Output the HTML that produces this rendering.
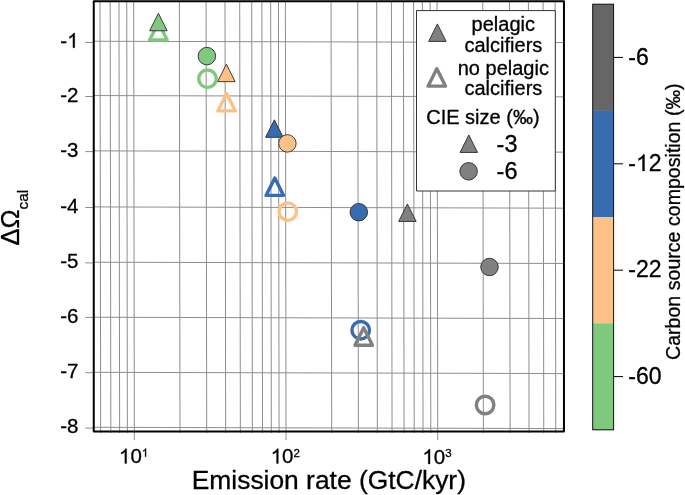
<!DOCTYPE html><html><head><meta charset="utf-8"><style>html,body{margin:0;padding:0;background:#fff;}svg{display:block;will-change:transform;}text{font-family:"Liberation Sans",sans-serif;fill:#000;stroke:#000;stroke-width:0.3px;}</style></head><body><svg width="685" height="495" viewBox="0 0 685 495"><rect x="0" y="0" width="685" height="495" fill="#fff"/><path d="M100.02 1.20L100.67 433.06M110.18 1.20L110.83 433.06M118.98 1.20L119.63 433.06M126.74 1.20L127.39 433.06M133.68 1.20L134.34 440.20M179.35 1.20L179.99 433.06M206.06 1.20L206.71 433.06M225.01 1.20L225.66 433.06M239.71 1.20L240.36 433.06M251.72 1.20L252.37 433.06M261.88 1.20L262.53 433.06M270.68 1.20L271.33 433.06M278.44 1.20L279.09 433.06M285.38 1.20L286.04 440.20M331.05 1.20L331.69 433.06M357.76 1.20L358.41 433.06M376.71 1.20L377.36 433.06M391.41 1.20L392.06 433.06M403.42 1.20L404.07 433.06M413.58 1.20L414.23 433.06M422.38 1.20L423.03 433.06M430.14 1.20L430.79 433.06M437.08 1.20L437.74 440.20M482.75 1.20L483.39 433.06M509.46 1.20L510.11 433.06M528.41 1.20L529.06 433.06M543.11 1.20L543.76 433.06M555.12 1.20L555.77 433.06" stroke="#8e8e8e" stroke-width="1.0" fill="none"/><path d="M93.75 41.26L563.95 42.53M93.75 95.56L563.95 96.83M93.75 150.86L563.95 152.13M93.75 206.91L563.95 208.18M93.75 262.21L563.95 263.48M93.75 317.26L563.95 318.53M93.75 372.31L563.95 373.58M93.75 427.31L563.95 428.58" stroke="#8e8e8e" stroke-width="1.0" fill="none"/><path d="M85.3 42.44H93.75M85.3 96.50H93.75M85.3 151.60H93.75M85.3 207.50H93.75M85.3 262.90H93.75M85.3 317.40H93.75M85.3 372.70H93.75M85.3 428.10H93.75" stroke="#8e8e8e" stroke-width="1" fill="none"/><rect x="93.75" y="1.2" width="470.20" height="430.36" fill="none" stroke="#000" stroke-width="2" stroke-linejoin="round"/><text x="60.27" y="47.74" font-size="20.5">-</text><path transform="translate(67.10,47.74) scale(0.01001,-0.01001)" d="M763 0L583 0L583 1147Q518 1085 412 1023Q306 961 222 930L222 1104Q373 1175 486 1276Q599 1377 646 1472L763 1472Z" fill="#000" stroke="#000" stroke-width="0.3" vector-effect="non-scaling-stroke"/><text x="60.27" y="101.80" font-size="20.5">-2</text><text x="60.27" y="156.90" font-size="20.5">-3</text><text x="60.27" y="212.80" font-size="20.5">-4</text><text x="60.27" y="268.20" font-size="20.5">-5</text><text x="60.27" y="322.70" font-size="20.5">-6</text><text x="60.27" y="378.00" font-size="20.5">-7</text><text x="60.27" y="433.40" font-size="20.5">-8</text><path transform="translate(119.00,463.40) scale(0.01001,-0.01001)" d="M763 0L583 0L583 1147Q518 1085 412 1023Q306 961 222 930L222 1104Q373 1175 486 1276Q599 1377 646 1472L763 1472Z" fill="#000" stroke="#000" stroke-width="0.3" vector-effect="non-scaling-stroke"/><text x="130.40" y="463.40" font-size="20.5">0</text><path transform="translate(141.80,456.80) scale(0.00562,-0.00562)" d="M763 0L583 0L583 1147Q518 1085 412 1023Q306 961 222 930L222 1104Q373 1175 486 1276Q599 1377 646 1472L763 1472Z" fill="#000" stroke="#000" stroke-width="0.3" vector-effect="non-scaling-stroke"/><path transform="translate(270.70,463.40) scale(0.01001,-0.01001)" d="M763 0L583 0L583 1147Q518 1085 412 1023Q306 961 222 930L222 1104Q373 1175 486 1276Q599 1377 646 1472L763 1472Z" fill="#000" stroke="#000" stroke-width="0.3" vector-effect="non-scaling-stroke"/><text x="282.10" y="463.40" font-size="20.5">0</text><text x="293.50" y="456.80" font-size="11.5">2</text><path transform="translate(422.40,464.00) scale(0.01001,-0.01001)" d="M763 0L583 0L583 1147Q518 1085 412 1023Q306 961 222 930L222 1104Q373 1175 486 1276Q599 1377 646 1472L763 1472Z" fill="#000" stroke="#000" stroke-width="0.3" vector-effect="non-scaling-stroke"/><text x="433.80" y="464.00" font-size="20.5">0</text><text x="445.20" y="457.40" font-size="11.5">3</text><text x="328.85" y="489.3" font-size="26.4" text-anchor="middle">Emission rate (GtC/kyr)</text><g transform="translate(19,245.6) rotate(-90)"><text x="0" y="0" font-size="25.5">ΔΩ<tspan font-size="15.3" dy="8.9">cal</tspan></text></g><path d="M158.40 22.40L167.15 39.90L149.65 39.90Z" fill="none" stroke="#7FC97F" stroke-width="3.4" stroke-linejoin="round"/><path d="M158.40 13.25L167.15 30.75L149.65 30.75Z" fill="#7FC97F" stroke="#2a2a2a" stroke-width="0.9" stroke-linejoin="miter"/><circle cx="206.90" cy="56.10" r="8.75" fill="#7FC97F" stroke="#2a2a2a" stroke-width="0.9"/><circle cx="207.50" cy="78.70" r="8.75" fill="none" stroke="#7FC97F" stroke-width="3.4"/><path d="M226.40 64.15L235.15 81.65L217.65 81.65Z" fill="#FDC086" stroke="#2a2a2a" stroke-width="0.9" stroke-linejoin="miter"/><path d="M226.60 93.40L235.35 110.90L217.85 110.90Z" fill="none" stroke="#FDC086" stroke-width="3.4" stroke-linejoin="round"/><path d="M274.40 119.80L283.15 137.30L265.65 137.30Z" fill="#386CB0" stroke="#2a2a2a" stroke-width="0.9" stroke-linejoin="miter"/><circle cx="287.40" cy="143.40" r="8.75" fill="#FDC086" stroke="#2a2a2a" stroke-width="0.9"/><path d="M274.80 177.90L283.55 195.40L266.05 195.40Z" fill="none" stroke="#386CB0" stroke-width="3.4" stroke-linejoin="round"/><circle cx="287.80" cy="211.60" r="8.75" fill="none" stroke="#FDC086" stroke-width="3.4"/><circle cx="358.80" cy="212.20" r="8.75" fill="#386CB0" stroke="#2a2a2a" stroke-width="0.9"/><path d="M407.40 203.95L416.15 221.45L398.65 221.45Z" fill="#808080" stroke="#2a2a2a" stroke-width="0.9" stroke-linejoin="miter"/><circle cx="489.50" cy="267.00" r="8.75" fill="#808080" stroke="#2a2a2a" stroke-width="0.9"/><circle cx="360.70" cy="330.20" r="8.75" fill="none" stroke="#386CB0" stroke-width="3.4"/><path d="M363.70 327.70L372.45 345.20L354.95 345.20Z" fill="none" stroke="#808080" stroke-width="3.4" stroke-linejoin="round"/><circle cx="485.10" cy="405.00" r="8.75" fill="none" stroke="#808080" stroke-width="3.4"/><rect x="416.5" y="10.6" width="138.8" height="180.4" fill="#fff" stroke="#333" stroke-width="1" stroke-linejoin="round"/><path d="M437.40 23.90L446.15 41.40L428.65 41.40Z" fill="#808080" stroke="#2a2a2a" stroke-width="0.9" stroke-linejoin="miter"/><text x="503.3" y="31.1" font-size="20" text-anchor="middle">pelagic</text><text x="503.4" y="51.5" font-size="20" text-anchor="middle">calcifiers</text><path d="M436.80 68.65L445.55 86.15L428.05 86.15Z" fill="none" stroke="#808080" stroke-width="3.4" stroke-linejoin="round"/><text x="503.35" y="74.6" font-size="20" text-anchor="middle">no pelagic</text><text x="503.4" y="95.2" font-size="20" text-anchor="middle">calcifiers</text><text x="482.9" y="123.85" font-size="20" text-anchor="middle">CIE size (‰)</text><path d="M468.80 134.95L477.55 152.45L460.05 152.45Z" fill="#808080" stroke="#2a2a2a" stroke-width="0.9" stroke-linejoin="miter"/><text x="496.6" y="151.6" font-size="23.5">-3</text><circle cx="468.60" cy="171.30" r="8.75" fill="#808080" stroke="#2a2a2a" stroke-width="0.9"/><text x="496.6" y="179.1" font-size="23.5">-6</text><rect x="592.7" y="4.20" width="20.90" height="106.70" fill="#666666"/><rect x="592.7" y="110.60" width="20.90" height="106.70" fill="#386CB0"/><rect x="592.7" y="217.00" width="20.90" height="106.70" fill="#FDC086"/><rect x="592.7" y="323.40" width="20.90" height="106.70" fill="#7FC97F"/><rect x="592.7" y="4.2" width="20.90" height="425.60" fill="none" stroke="#111" stroke-width="1"/><text x="628.30" y="64.60" font-size="23">-6</text><text x="628.30" y="171.00" font-size="23">-</text><path transform="translate(635.96,171.00) scale(0.01123,-0.01123)" d="M763 0L583 0L583 1147Q518 1085 412 1023Q306 961 222 930L222 1104Q373 1175 486 1276Q599 1377 646 1472L763 1472Z" fill="#000" stroke="#000" stroke-width="0.3" vector-effect="non-scaling-stroke"/><text x="648.75" y="171.00" font-size="23">2</text><text x="628.30" y="277.40" font-size="23">-22</text><text x="628.30" y="383.80" font-size="23">-60</text><path d="M613.60 57.40H623M613.60 163.80H623M613.60 270.20H623M613.60 376.60H623" stroke="#000" stroke-width="1" fill="none"/><g transform="translate(679.5,360) rotate(-90)"><text x="0" y="0" font-size="19.6">Carbon source composition (‰)</text></g></svg></body></html>
